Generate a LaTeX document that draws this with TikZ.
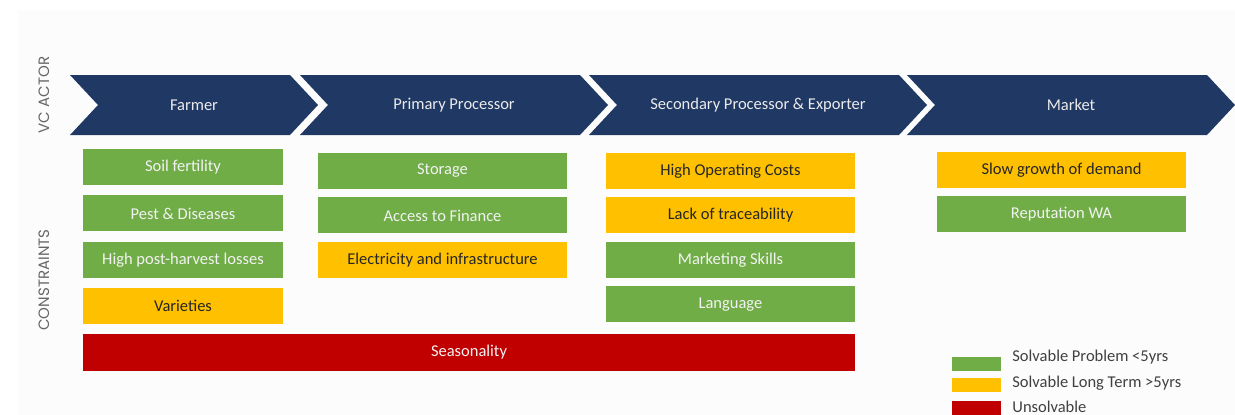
\documentclass[tikz,border=0pt]{standalone}
\usepackage{fontspec}
\setmainfont{Carlito}
\newfontfamily\labelfont{Poppins}
\usetikzlibrary{positioning}
\definecolor{navy}{HTML}{203864}
\definecolor{okgreen}{HTML}{70AD47}
\definecolor{amber}{HTML}{FFC000}
\definecolor{crimson}{HTML}{C00000}
\definecolor{inkgray}{HTML}{404040}
\definecolor{paper}{HTML}{FCFCFC}
% chevron: left x, right x (top corner), name, text
\newcommand{\chevron}[4]{%
  \fill[navy] (#1,75) -- (#2,75) -- (#2+28,105) -- (#2,135) -- (#1,135)
    -- (#1+28,105) -- cycle;
  \node[actor] (#3) at ({(#1+#2+28)/2},105) {#4};}

\begin{document}
\begin{tikzpicture}[
   x=1pt, y=-1pt,
   node distance = 8pt and 11pt,
   actor/.style = {text=white!92!black, font=\fontsize{16.5}{18}\selectfont},
   box/.style   = {minimum width=249pt, minimum height=36pt, inner sep=0pt,
                   font=\fontsize{16.5}{18}\selectfont},
   easy/.style  = {box, fill=okgreen, text=white!95!black},
   slow/.style  = {box, fill=amber, text=black!85},
   hard/.style  = {box, fill=crimson, text=white!95!black},
   side/.style  = {rotate=90, text=black!60, font=\labelfont\fontsize{15}{17}\selectfont},
   swatch/.style = {minimum width=49pt, minimum height=14pt, inner sep=0pt},
   key/.style   = {inner sep=0pt, anchor=west, text=inkgray,
                   font=\fontsize{16.5}{18}\selectfont}
]
\useasboundingbox (0,0) rectangle (1235,415);
\fill[paper] (18,10) rectangle (1235,415);

% value chain actors
\chevron{70}{290}{farmer}{Farmer}
\chevron{300}{580}{primary}{Primary Processor}
\chevron{589}{899}{secondary}{Secondary Processor \& Exporter}
\chevron{907}{1207}{market}{Market}

\node[side] (vcactor) at (44,95)  {VC ACTOR};
\node[side] (constr)  at (44,280) {CONSTRAINTS};

% farmer constraints
\node[easy, minimum width=200pt] (soil) at (183,167) {Soil fertility};
\node[easy, minimum width=200pt, below=10pt of soil] (pest) {Pest \& Diseases};
\node[easy, minimum width=200pt, below=10pt of pest] (losses) {High post-harvest losses};
\node[slow, minimum width=200pt, below=10pt of losses] (varieties) {Varieties};

% primary processor constraints
\node[easy] (storage) at (442.5,171) {Storage};
\node[easy, below=of storage] (finance) {Access to Finance};
\node[slow, below=of finance] (power) {Electricity and infrastructure};

% secondary processor constraints
\node[slow] (opcost) at (730.5,171) {High Operating Costs};
\node[slow, below=of opcost] (trace) {Lack of traceability};
\node[easy, below=of trace] (skills) {Marketing Skills};
\node[easy, below=of skills] (language) {Language};

% market constraints
\node[slow] (demand) at (1061.5,170) {Slow growth of demand};
\node[easy, below=of demand] (reputation) {Reputation WA};

\node[hard, minimum width=772pt, minimum height=37pt] (season) at (469,352) {Seasonality};

% legend
\node[swatch, fill=okgreen] (kgreen) at (976.5,363.5) {};
\node[swatch, fill=amber]   (kamber) at (976.5,384.5) {};
\node[swatch, fill=crimson] (kred)   at (976.5,408) {};
\node[key, right=of kgreen, yshift=6pt] (tgreen) {Solvable Problem <5yrs};
\node[key, right=of kamber, yshift=1pt] (tamber) {Solvable Long Term >5yrs};
\node[key, right=of kred, yshift=1pt]   (tred)   {Unsolvable};
\end{tikzpicture}
\end{document}
